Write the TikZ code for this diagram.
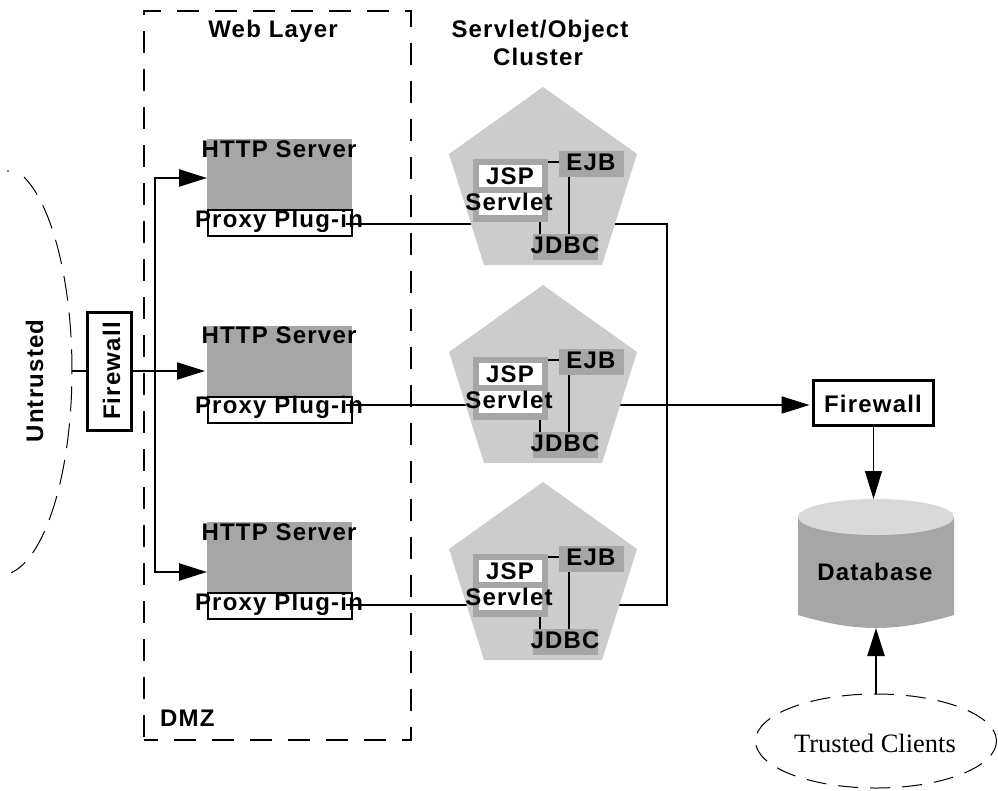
\documentclass[tikz,border=0pt]{standalone}
\usepackage{fontspec}
\usetikzlibrary{arrows.meta,calc}
\newfontfamily\lab[LetterSpace=5]{Liberation Sans}
\newfontfamily\serifl{Liberation Serif}
\definecolor{pentgray}{HTML}{CCCCCC}
\definecolor{midgray}{HTML}{A6A6A6}
\definecolor{lidgray}{HTML}{D9D9D9}
\tikzset{
  txt/.style={font=\lab\bfseries\fontsize{24}{26}\selectfont,inner sep=0pt,anchor=base,text=black},
  conn/.style={draw=black,line width=2pt},
  tiparrow/.style={-{Triangle[length=28pt,width=17pt]}},
  dashbox/.style={draw=black,line width=2pt,dash pattern=on 22pt off 16pt,dash phase=8pt},
  longdash/.style={draw=black,line width=1pt,dash pattern=on 25pt off 12pt},
  box/.style={inner sep=0pt,outer sep=0pt,rectangle},
  fwbox/.style={box,draw=black,line width=3pt,fill=white},
  graybox/.style={box,fill=midgray},
  proxybox/.style={box,draw=black,line width=2pt,fill=white},
  wire/.style={draw=black,line width=2.4pt},
}
\begin{document}
\begin{tikzpicture}[x=1pt,y=-1pt]
\useasboundingbox (0,0) rectangle (998,790);
% DMZ
\node[box,dashbox,minimum width=267pt,minimum height=729.5pt] (dmz) at (277,375.25) {};
% Untrusted cloud
\fill[black] (8,171) circle (0.8pt);
\draw[longdash,dash phase=3pt] (24,177) arc[start angle=70.5,end angle=-81,x radius=72pt,y radius=205pt];
% coordinates of connectors
\coordinate (unt) at (72,371);
\coordinate (bus) at (155,371);
\coordinate (in1) at (207,178);
\coordinate (in3) at (207,572);
\coordinate (pent1) at (543,223.5);
\coordinate (pent2) at (543,405);
\coordinate (pent3) at (543,604.5);
\coordinate (busT) at (667,223.5);
\coordinate (busB) at (667,604.5);
% boxes of web layer
\node[graybox,minimum width=145pt,minimum height=70pt] (http1) at (279.5,174) {};
\node[graybox,minimum width=145pt,minimum height=70pt] (http2) at (279.5,361) {};
\node[graybox,minimum width=145pt,minimum height=70pt] (http3) at (279.5,557) {};
\node[proxybox,minimum width=144pt,minimum height=26pt] (proxy1) at (279.5,222.5) {};
\node[proxybox,minimum width=144pt,minimum height=26pt] (proxy2) at (279.5,409.5) {};
\node[proxybox,minimum width=144pt,minimum height=26pt] (proxy3) at (279.5,605.5) {};
\node[fwbox,minimum width=44pt,minimum height=118pt] (fw1) at (109.5,371.5) {};
\node[fwbox,minimum width=120pt,minimum height=45pt] (fw2) at (873.5,402.5) {};
% connectors
\draw[conn] (unt) -- (fw1.west |- unt);
\draw[conn,tiparrow,shorten >=2pt] (fw1.east |- unt) -- (http2.west |- unt);
\draw[wire,tiparrow] (bus) |- (in1);
\draw[wire,tiparrow] (bus) |- (in3);
\draw[conn] (proxy1.east |- pent1) -- (pent1);
\draw[conn] (proxy2.east |- pent2) -- (pent2);
\draw[conn] (proxy3.east |- pent3) -- (pent3);
\draw[conn] (pent1) -- (busT) -- (busB) -- (pent3);
\draw[conn,tiparrow,shorten >=4pt] (pent2) -- (fw2.west |- pent2);
% clusters
\foreach \n/\d in {1/0,2/198,3/395}{
  \begin{scope}[shift={(0,\d)}]
    \fill[pentgray] (543,87) -- (637,154) -- (602,265) -- (484,265) -- (449,154) -- cycle;
    \node[graybox,minimum width=65pt,minimum height=26pt] (ejb\n) at (591.5,164) {};
    \node[graybox,minimum width=65pt,minimum height=26pt] (jdbc\n) at (565.5,247) {};
    \node[graybox,minimum width=75pt,minimum height=63.5pt] (srv\n) at (510.5,190.5) {};
    \fill[white] (479,165) rectangle (542,187);
    \fill[white] (479,193) rectangle (542,214.5);
    \draw[wire] (srv\n.east |- 0,162) -- (ejb\n.west |- 0,162);
    \draw[wire] (569,177) -- (569,234);
    \draw[wire] (540,222) -- (540,234);
    \node[txt] (jsp\n) at (510,184) {JSP};
    \node[txt] (servlet\n) at (509,210) {Servlet};
    \node[txt] (ejbt\n) at (591,170) {EJB};
    \node[txt] (jdbct\n) at (565,253) {JDBC};
  \end{scope}
}
% server labels
\node[txt] (ht1) at (279,157) {HTTP Server};
\node[txt] (ht2) at (279,343.5) {HTTP Server};
\node[txt] (ht3) at (279,540) {HTTP Server};
\node[txt] (pt1) at (279,227) {Proxy Plug-in};
\node[txt] (pt2) at (279,413) {Proxy Plug-in};
\node[txt] (pt3) at (279,610) {Proxy Plug-in};
\draw[conn] (proxy1.east |- pent1) ++(-6,0) -- (proxy1.east |- pent1);
\draw[conn] (proxy2.east |- pent2) ++(-6,0) -- (proxy2.east |- pent2);
\draw[conn] (proxy3.east |- pent3) ++(-6,0) -- (proxy3.east |- pent3);
% headings
\node[txt] (web) at (273,37) {Web Layer};
\node[txt] (soc) at (540,37) {Servlet/Object};
\node[txt] (clu) at (538,65) {Cluster};
\node[txt,anchor=base west] (dmzt) at (160,726) {DMZ};
\node[txt,rotate=90] (untt) at (43,381) {Untrusted};
\node[txt,rotate=90] (fwt1) at (120,371) {Firewall};
\node[txt] (fwt2) at (873,412) {Firewall};
% database
\node[box,minimum width=156pt,minimum height=129pt] (db) at (876,563.5) {};
\fill[midgray] (798,517) -- (798,615) .. controls (825,623) and (850,628) .. (876,628) .. controls (902,628) and (927,623) .. (954,615) -- (954,517) -- cycle;
\fill[lidgray] (876,517) ellipse [x radius=78pt,y radius=18pt];
\node[txt] (dbt) at (875,580) {Database};
\draw[conn,line width=1.4pt,tiparrow] (fw2.south) -- (fw2.south |- db.north);
% trusted clients
\node[box,minimum width=241pt,minimum height=95pt] (tc) at (876,741) {};
\draw[longdash,dash pattern=on 20pt off 12pt,dash phase=8pt] (876,741) ellipse [x radius=120.5pt,y radius=47pt];
\node[inner sep=0pt,anchor=base,font=\serifl\fontsize{26.5}{28}\selectfont] (tct) at (875,752) {Trusted Clients};
\draw[wire,tiparrow] (tc.north) -- (db.south);
\end{tikzpicture}
\end{document}
